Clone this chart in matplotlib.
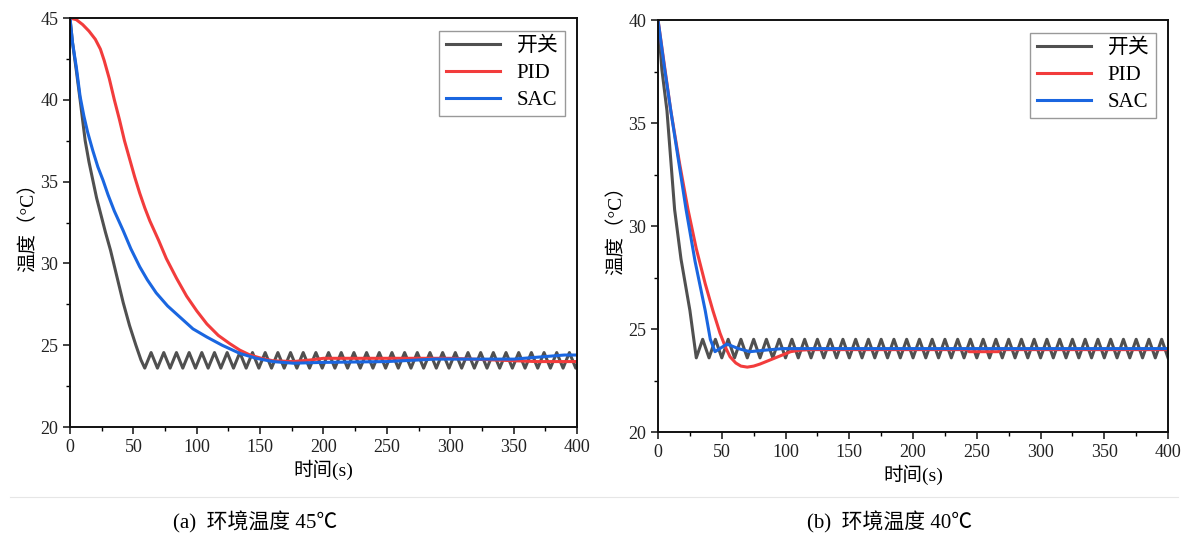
import matplotlib
matplotlib.use("Agg")
import matplotlib.pyplot as plt
from matplotlib.ticker import MultipleLocator
from matplotlib.lines import Line2D

plt.rcParams['font.family'] = ['Liberation Serif', 'Noto Sans CJK SC']

# ---------------- (a) ambient 45 C ----------------
sw45_t = [0, 2, 5, 8, 12, 15, 18, 21, 25, 28, 32, 37, 42, 47, 52, 56, 59,
          64, 69, 74, 79, 84, 89, 94, 99, 104, 109,
          114, 119, 124, 129, 134, 139, 144, 149, 154, 159,
          164, 169, 174, 179, 184, 189, 194, 199, 204, 209,
          214, 219, 224, 229, 234, 239, 244, 249, 254, 259,
          264, 269, 274, 279, 284, 289, 294, 299, 304, 309,
          314, 319, 324, 329, 334, 339, 344, 349, 354, 359,
          364, 369, 374, 379, 384, 389, 394, 399, 400]
sw45_v = [45, 43.5, 41.8, 40.0, 37.5, 36.2, 35.1, 34.0, 32.8, 31.9, 30.8, 29.2, 27.6, 26.2, 25.0, 24.1, 23.6,
          24.55, 23.6, 24.55, 23.6, 24.55, 23.6, 24.55, 23.6, 24.55, 23.6,
          24.55, 23.6, 24.55, 23.6, 24.55, 23.6, 24.55, 23.6, 24.55, 23.6,
          24.55, 23.6, 24.55, 23.6, 24.55, 23.6, 24.55, 23.6, 24.55, 23.6,
          24.55, 23.6, 24.55, 23.6, 24.55, 23.6, 24.55, 23.6, 24.55, 23.6,
          24.55, 23.6, 24.55, 23.6, 24.55, 23.6, 24.55, 23.6, 24.55, 23.6,
          24.55, 23.6, 24.55, 23.6, 24.55, 23.6, 24.55, 23.6, 24.55, 23.6,
          24.55, 23.6, 24.55, 23.6, 24.55, 23.6, 24.55, 23.6, 23.8]

pid45_t = [0, 5, 10, 15, 20, 24, 27, 31, 35, 39, 43, 47, 51, 55, 59, 63, 70, 76, 84, 92, 100,
           108, 117, 126, 134, 142, 151, 160, 176, 190, 200, 250, 300, 368, 400]
pid45_v = [45, 44.9, 44.6, 44.2, 43.7, 43.1, 42.4, 41.3, 40.0, 38.8, 37.5, 36.4, 35.3, 34.3, 33.4, 32.6, 31.4, 30.3, 29.1, 28.0, 27.1,
           26.3, 25.6, 25.1, 24.7, 24.4, 24.2, 24.05, 24.0, 24.1, 24.2, 24.2, 24.2, 24.0, 24.0]

sac45_t = [0, 2, 5, 8, 11, 14, 18, 22, 26, 30, 35, 42, 48, 55, 61, 68, 77, 87, 97, 108,
           120, 134, 147, 160, 176, 200, 250, 288, 350, 390, 400]
sac45_v = [45, 43.5, 42.0, 40.2, 39.0, 38.0, 36.9, 35.9, 35.1, 34.2, 33.2, 32.0, 30.9, 29.8, 29.0, 28.2, 27.4, 26.7, 26.0, 25.5,
           25.0, 24.5, 24.2, 24.0, 23.9, 23.95, 24.0, 24.15, 24.15, 24.4, 24.4]

# ---------------- (b) ambient 40 C ----------------
sw40_t = [0, 3, 7, 10, 13, 18, 25, 30,
          35, 40, 45, 50, 55, 60, 65, 70, 75, 80,
          85, 90, 95, 100, 105, 110, 115, 120, 125, 130,
          135, 140, 145, 150, 155, 160, 165, 170, 175, 180,
          185, 190, 195, 200, 205, 210, 215, 220, 225, 230,
          235, 240, 245, 250, 255, 260, 265, 270, 275, 280,
          285, 290, 295, 300, 305, 310, 315, 320, 325, 330,
          335, 340, 345, 350, 355, 360, 365, 370, 375, 380,
          385, 390, 395, 400]
sw40_v = [40, 37.6, 35.6, 33.2, 30.8, 28.4, 25.9, 23.6,
          24.5, 23.6, 24.5, 23.6, 24.5, 23.6, 24.5, 23.6, 24.5, 23.6,
          24.5, 23.6, 24.5, 23.6, 24.5, 23.6, 24.5, 23.6, 24.5, 23.6,
          24.5, 23.6, 24.5, 23.6, 24.5, 23.6, 24.5, 23.6, 24.5, 23.6,
          24.5, 23.6, 24.5, 23.6, 24.5, 23.6, 24.5, 23.6, 24.5, 23.6,
          24.5, 23.6, 24.5, 23.6, 24.5, 23.6, 24.5, 23.6, 24.5, 23.6,
          24.5, 23.6, 24.5, 23.6, 24.5, 23.6, 24.5, 23.6, 24.5, 23.6,
          24.5, 23.6, 24.5, 23.6, 24.5, 23.6, 24.5, 23.6, 24.5, 23.6,
          24.5, 23.6, 24.5, 23.6]

pid40_t = [0, 5, 10, 17, 23.5, 30, 37, 43, 48.6, 53, 56.5, 61, 65, 70, 75, 80, 86, 92, 98, 104, 111, 119,
           200, 243, 244, 267, 268, 400]
pid40_v = [40, 37.8, 35.6, 33.0, 30.8, 28.9, 27.2, 25.9, 24.8, 24.1, 23.65, 23.35, 23.2, 23.15, 23.2, 23.3, 23.45, 23.6, 23.75, 23.9, 23.97, 24.0,
           24.0, 24.0, 23.9, 23.9, 24.0, 24.0]

sac40_t = [0, 5, 10, 16, 22, 29, 37, 41, 44.7, 54, 63, 72, 85, 98, 150, 250, 400]
sac40_v = [40, 37.7, 35.6, 33.2, 30.8, 28.3, 25.9, 24.5, 23.9, 24.27, 24.05, 23.9, 23.98, 24.05, 24.05, 24.05, 24.05]

labels = ['开关', 'PID', 'SAC']
colors = ['#505050', '#f23c3c', '#1a66e0']
x_ticks = [0, 50, 100, 150, 200, 250, 300, 350, 400]

fig = plt.figure(figsize=(11.88, 5.38), dpi=100)
ax1 = fig.add_axes([0.0589, 0.2063, 0.4268, 0.7602])
ax2 = fig.add_axes([0.5539, 0.197, 0.4293, 0.7658])

panels = [
    (ax1, [(sw45_t, sw45_v), (pid45_t, pid45_v), (sac45_t, sac45_v)], (20, 45)),
    (ax2, [(sw40_t, sw40_v), (pid40_t, pid40_v), (sac40_t, sac40_v)], (20, 40)),
]

for ax, series, ylim in panels:
    for (t, v), c, lab in zip(series, colors, labels):
        ax.plot(t, v, color=c, lw=2.2, label=lab)
    ax.set_xlim(0, 400)
    ax.set_ylim(*ylim)
    ax.set_xticks(x_ticks)
    ax.xaxis.set_minor_locator(MultipleLocator(25))
    ax.yaxis.set_major_locator(MultipleLocator(5))
    ax.yaxis.set_minor_locator(MultipleLocator(2.5))
    ax.tick_params(which='major', direction='out', length=5, width=1.2, labelsize=13, colors='#222222')
    ax.tick_params(which='minor', direction='out', length=3, width=1.0)
    for s in ax.spines.values():
        s.set_linewidth(1.4)
        s.set_color('#111111')
    ax.set_xlabel('时间(s)', fontsize=14, labelpad=3)
    ax.set_ylabel('温度（°C）', fontsize=14, labelpad=2)
    leg = ax.legend(loc='upper right', fontsize=15, frameon=True, fancybox=False,
                    handlelength=2.6, borderaxespad=0.6, labelspacing=0.35,
                    handletextpad=0.8, borderpad=0.3)
    leg.get_frame().set_edgecolor('#808080')
    leg.get_frame().set_linewidth(1.0)

fig.add_artist(Line2D([0.008, 0.992], [1 - 497 / 538, 1 - 497 / 538], color='#e6e6e6', lw=0.8))
fig.text(255 / 1188, 1 - 522 / 538, '(a)  环境温度 45℃', ha='center', va='center', fontsize=15)
fig.text(890 / 1188, 1 - 522 / 538, '(b)  环境温度 40℃', ha='center', va='center', fontsize=15)

fig.savefig('out.png', dpi=100)
